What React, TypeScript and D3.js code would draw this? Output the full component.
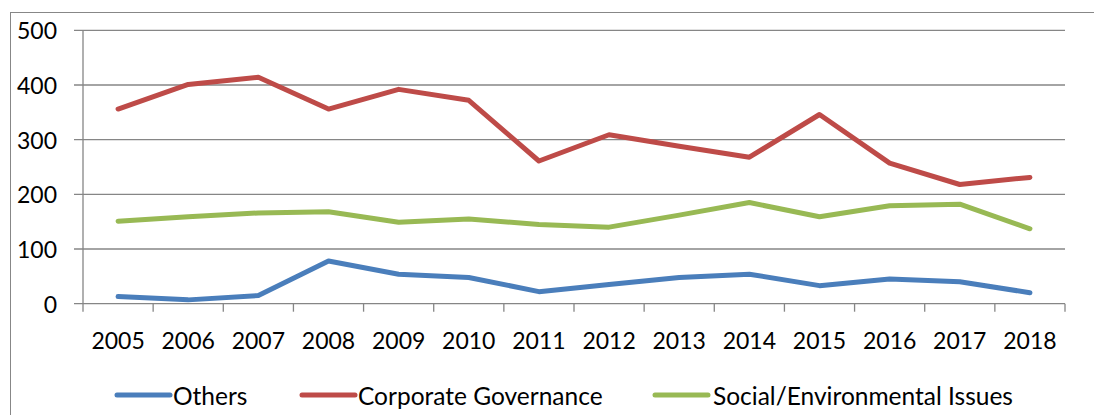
import React from "react";
import * as d3 from "d3";

const years = ["2005","2006","2007","2008","2009","2010","2011","2012","2013","2014","2015","2016","2017","2018"];
const others = [13, 7, 15, 78, 54, 48, 22, 35, 48, 54, 33, 45, 40, 20];
const corporate = [356, 401, 414, 356, 392, 372, 261, 309, 288, 268, 346, 257, 218, 231];
const social = [151, 159, 166, 168, 149, 155, 145, 140, 162, 185, 159, 179, 182, 137];
const yTicks = [0, 100, 200, 300, 400, 500];

const series = [
  { name: "Others", values: others, color: "#4A7EBB" },
  { name: "Corporate Governance", values: corporate, color: "#BE4B48" },
  { name: "Social/Environmental Issues", values: social, color: "#98B954" },
];

const W = 1094, H = 415;
const left = 83, right = 1065, top = 30.3, bottom = 303.7;
const FONT = "Lato, 'Open Sans', sans-serif";
const GRID = "#868686";

export default function App() {
  const x = d3.scaleBand<string>().domain(years).range([left, right]).padding(0);
  const y = d3.scaleLinear().domain([0, 500]).range([bottom, top]);
  const cx = (i: number) => (x(years[i]) as number) + x.bandwidth() / 2;
  const line = d3.line<number>().x((_, i) => cx(i)).y((v) => y(v));

  const legendItems = [
    { lx: 117, tx: 173 },
    { lx: 302, tx: 358 },
    { lx: 655, tx: 713 },
  ];

  return (
    <svg width={W} height={H} style={{ position: "absolute", left: 0, top: 0, background: "#fff" }}>
      <rect x={10.5} y={12.5} width={1200} height={500} fill="#fff" stroke="#878787" strokeWidth={1} />
      {yTicks.map((t) => (
        <g key={t}>
          <line x1={74} x2={right} y1={y(t)} y2={y(t)} stroke={GRID} strokeWidth={1.3} />
          <text x={57} y={y(t)} textAnchor="end" dominantBaseline="central" fontFamily={FONT} fontSize={23} fill="#000">{t}</text>
        </g>
      ))}
      <line x1={left} x2={left} y1={top} y2={bottom + 8} stroke={GRID} strokeWidth={1.3} />
      {years.map((yr) => (
        <line key={"t" + yr} x1={(x(yr) as number) + x.bandwidth()} x2={(x(yr) as number) + x.bandwidth()} y1={bottom} y2={bottom + 8} stroke={GRID} strokeWidth={1.3} />
      ))}
      {years.map((yr, i) => (
        <text key={yr} x={cx(i)} y={340} textAnchor="middle" dominantBaseline="central" fontFamily={FONT} fontSize={23} fill="#000">{yr}</text>
      ))}
      {series.map((s) => (
        <path key={s.name} d={line(s.values) || ""} fill="none" stroke={s.color} strokeWidth={5} strokeLinejoin="round" strokeLinecap="round" />
      ))}
      {series.map((s, i) => (
        <g key={"l" + s.name}>
          <line x1={legendItems[i].lx} x2={legendItems[i].lx + 53} y1={395} y2={395} stroke={s.color} strokeWidth={5} strokeLinecap="round" />
          <text x={legendItems[i].tx} y={395} dominantBaseline="central" fontFamily={FONT} fontSize={24.5} fill="#000">{s.name}</text>
        </g>
      ))}
    </svg>
  );
}
